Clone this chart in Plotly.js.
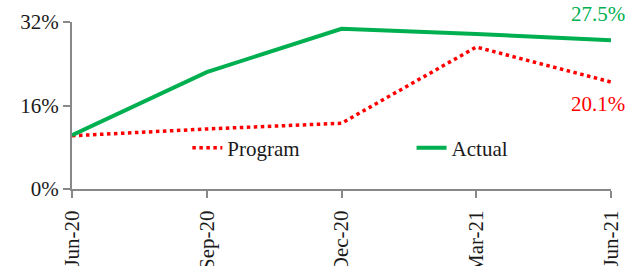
<!DOCTYPE html>
<html>
<head>
<meta charset="utf-8">
<script src="https://cdn.plot.ly/plotly-3.0.1.min.js"></script>
<style>html,body{margin:0;padding:0;background:#fff;}#chart{width:629px;height:266px;}</style>
</head>
<body>
<div id="chart"></div>
<script>
const categories = ["Jun-20", "Sep-20", "Dec-20", "Mar-21", "Jun-21"];
const programValues = [10.2, 11.5, 12.6, 27.2, 20.5];
const actualValues = [10.3, 22.4, 30.7, 29.7, 28.5];
const programLabel = "20.1%";
const actualLabel = "27.5%";
const yTickVals = [0, 16, 32];
const yTickText = ["0%", "16%", "32%"];

const FONT = "Liberation Serif, Times New Roman, serif";
const last = categories.length - 1;

const traces = [
  {x: categories, y: programValues, name: "Program", type: "scatter", mode: "lines",
   legend: "legend", line: {color: "#FF0000", width: 3.5, dash: "dot"}},
  {x: categories, y: actualValues, name: "Actual", type: "scatter", mode: "lines",
   legend: "legend2", line: {color: "#00B050", width: 4}}
];

const legendBase = {orientation: "h", yanchor: "middle", xanchor: "left",
  bgcolor: "rgba(0,0,0,0)", font: {family: FONT, size: 21, color: "#1a1a1a"}};

const layout = {
  width: 629, height: 266,
  margin: {l: 72, r: 18, t: 22, b: 77},
  paper_bgcolor: "#fff", plot_bgcolor: "#fff",
  font: {family: FONT, size: 21, color: "#1a1a1a"},
  showlegend: true,
  legend: Object.assign({}, legendBase, {x: 0.214, y: 0.245}),
  legend2: Object.assign({}, legendBase, {x: 0.63, y: 0.245}),
  xaxis: {type: "category", range: [0, last], showgrid: false, zeroline: false,
          showline: true, linecolor: "#888", linewidth: 2,
          ticks: "outside", ticklen: 7, tickcolor: "#888", tickwidth: 2,
          tickangle: -90, ticklabelstandoff: 4,
          tickfont: {family: FONT, size: 21, color: "#1a1a1a"}},
  yaxis: {range: [0, 32], showgrid: false, zeroline: false,
          showline: true, linecolor: "#888", linewidth: 2,
          ticks: "outside", ticklen: 7, tickcolor: "#888", tickwidth: 2,
          tickvals: yTickVals, ticktext: yTickText,
          tickfont: {family: FONT, size: 21, color: "#1a1a1a"}},
  annotations: [
    {x: categories[last], y: actualValues[last], xref: "x", yref: "y", text: actualLabel,
     showarrow: false, xanchor: "center", yanchor: "middle", xshift: -13, yshift: 26,
     font: {family: FONT, size: 21, color: "#00B050"}},
    {x: categories[last], y: programValues[last], xref: "x", yref: "y", text: programLabel,
     showarrow: false, xanchor: "center", yanchor: "middle", xshift: -13, yshift: -22,
     font: {family: FONT, size: 21, color: "#FF0000"}}
  ]
};

Plotly.newPlot("chart", traces, layout, {displayModeBar: false, staticPlot: true});
</script>
</body>
</html>
